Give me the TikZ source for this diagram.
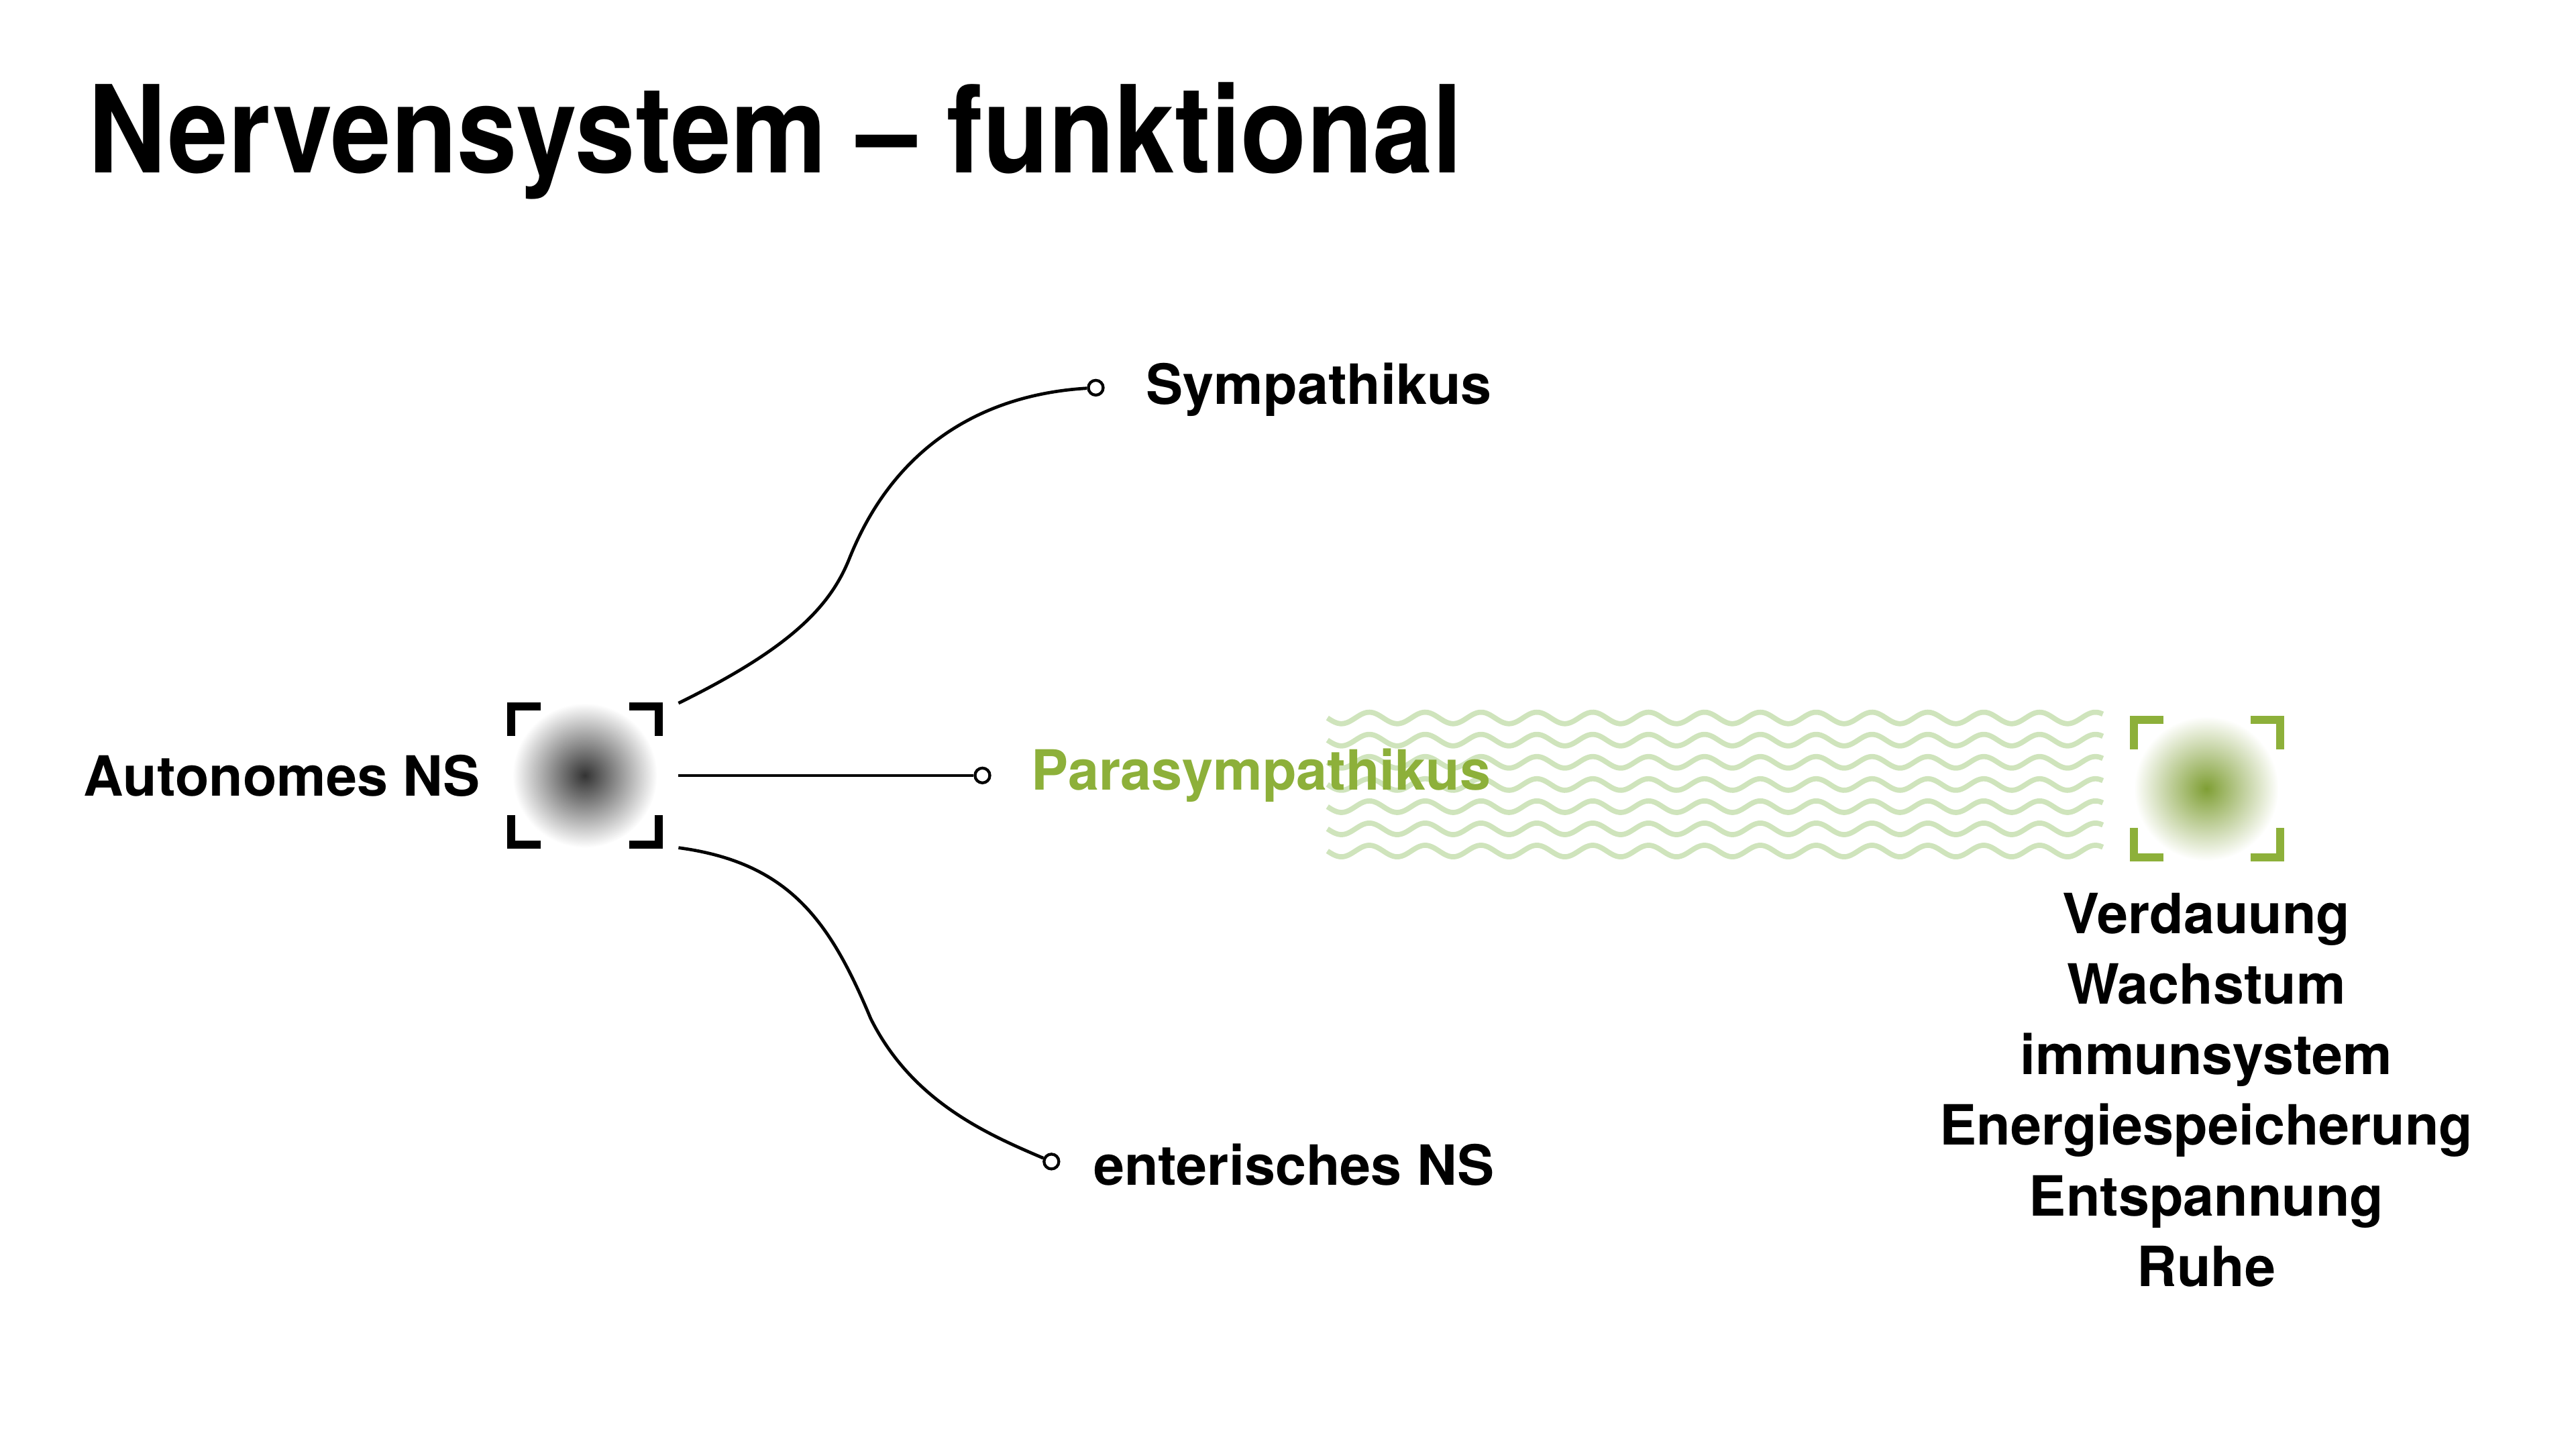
\documentclass[tikz,border=0pt]{standalone}
\usepackage{fontspec}
\setmainfont{TeX Gyre Heros}
\usetikzlibrary{positioning}
\definecolor{paragreen}{HTML}{8DB03A}
\definecolor{wavegreen}{HTML}{CFE4BC}
\tikzset{
  lbl/.style={font=\bfseries\fontsize{9.6pt}{11pt}\selectfont, inner sep=0pt},
  endpt/.style={circle, draw, fill=white, line width=0.5pt, inner sep=0pt, minimum size=0.09cm},
  nerve/.style={line width=0.55pt},
  corner/.style={line width=1.4pt, line cap=butt}
}
\begin{document}
\begin{tikzpicture}[x=0.01cm, y=-0.01cm]
  \useasboundingbox (0,0) rectangle (1568,871);

  \node[anchor=base west, inner sep=0pt, font=\bfseries\fontsize{21pt}{24pt}\selectfont] (title) at (53,105) {\scalebox{0.89}[1]{Nervensystem -- funktional}};

  % autonomic centre
  \shade[inner color=black!80, outer color=white] (356,472) circle (44);
  \foreach \cx/\cy/\dx/\dy in {311/430/1/1, 401/430/-1/1, 311/514/1/-1, 401/514/-1/-1}
    \draw[corner] (\cx+18*\dx,\cy) -- (\cx,\cy) -- (\cx,\cy+18*\dy);
  \coordinate (top) at (413,428);
  \coordinate (mid) at (413,472);
  \coordinate (bot) at (413,516);
  \node[lbl, anchor=east] (ans) at (293,472) {Autonomes NS};

  % branches
  \node[endpt] (s) at (667,236) {};
  \node[endpt] (p) at (598,472) {};
  \node[endpt] (e) at (640,707) {};
  \node[lbl, anchor=west] (symp) at (697,237) {Sympathikus};
  \node[lbl, anchor=west] (ent) at (665,709) {enterisches NS};

  \draw[nerve] (top) .. controls (480,395) and (505,370) .. (517,340)
                     .. controls (545,270) and (600,240) .. (s);
  \draw[nerve] (mid) -- (p);
  \draw[nerve] (bot) .. controls (480,525) and (505,560) .. (530,620)
                     .. controls (555,670) and (600,690) .. (e);

  % waves
  \foreach \r in {0,...,6}
    \draw[wavegreen, line width=0.9pt]
      plot[domain=0:472, samples=240, smooth] ({808+\x},{437+13.5*\r+3.5*sin(\x*10.588)});
  \node[lbl, anchor=west, text=paragreen] (para) at (627,472) {Parasympathikus};

  % target
  \shade[inner color=paragreen!90!black, outer color=white] (1343,480) circle (44);
  \foreach \cx/\cy/\dx/\dy in {1299/438/1/1, 1388/438/-1/1, 1299/522/1/-1, 1388/522/-1/-1}
    \draw[corner, paragreen] (\cx+18*\dx,\cy) -- (\cx,\cy) -- (\cx,\cy+18*\dy);
  \node[lbl, align=center, anchor=north, font=\bfseries\fontsize{9.6pt}{12.2pt}\selectfont] (effects) at (1343,543)
    {Verdauung\\Wachstum\\immunsystem\\Energiespeicherung\\Entspannung\\Ruhe};
\end{tikzpicture}
\end{document}
